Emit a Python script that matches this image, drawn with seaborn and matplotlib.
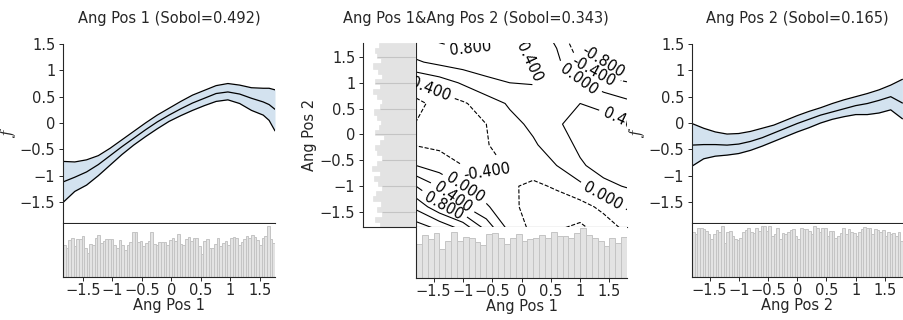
import numpy as np
import matplotlib
matplotlib.use("Agg")
import matplotlib.pyplot as plt
import seaborn as sns

# ---- 1D main effect: Ang Pos 1 ----
x1_grid = [-1.84, -1.64, -1.44, -1.24, -1.04, -0.84, -0.64, -0.44, -0.24, -0.04,
           0.16, 0.36, 0.56, 0.76, 0.96, 1.16, 1.36, 1.56, 1.66, 1.76]
f1_mean = [-1.12, -1.03, -0.93, -0.79, -0.62, -0.45, -0.29, -0.13, 0.02, 0.15,
           0.27, 0.38, 0.47, 0.56, 0.59, 0.55, 0.47, 0.40, 0.35, 0.26]
f1_upper = [-0.73, -0.74, -0.70, -0.62, -0.48, -0.32, -0.16, 0.00, 0.15, 0.28,
            0.41, 0.53, 0.62, 0.71, 0.75, 0.72, 0.67, 0.66, 0.66, 0.63]
f1_lower = [-1.51, -1.30, -1.18, -1.00, -0.80, -0.60, -0.42, -0.26, -0.11, 0.03,
            0.14, 0.24, 0.33, 0.41, 0.44, 0.37, 0.24, 0.15, 0.05, -0.15]

# ---- 1D main effect: Ang Pos 2 ----
x2_grid = [-1.8, -1.6, -1.4, -1.2, -1.0, -0.8, -0.6, -0.4, -0.2, 0.0,
           0.2, 0.4, 0.6, 0.8, 1.0, 1.2, 1.4, 1.6, 1.8]
f2_mean = [-0.42, -0.41, -0.41, -0.42, -0.40, -0.35, -0.28, -0.19, -0.10, -0.01,
           0.07, 0.15, 0.21, 0.27, 0.33, 0.37, 0.43, 0.50, 0.38]
f2_upper = [-0.01, -0.10, -0.17, -0.21, -0.20, -0.16, -0.10, -0.04, 0.05, 0.14,
            0.22, 0.29, 0.37, 0.44, 0.50, 0.56, 0.63, 0.72, 0.83]
f2_lower = [-0.82, -0.68, -0.63, -0.61, -0.58, -0.52, -0.44, -0.35, -0.26, -0.17,
            -0.09, 0.00, 0.07, 0.12, 0.16, 0.16, 0.19, 0.25, 0.08]

# ---- 2D interaction (rows = Ang Pos 2 from -1.8 up, cols = Ang Pos 1) ----
c_x1 = [-1.8, -1.4, -1.0, -0.6, -0.2, 0.2, 0.6, 1.0, 1.4, 1.8]
c_x2 = [-1.8, -1.4, -1.0, -0.6, -0.2, 0.2, 0.6, 1.0, 1.4, 1.8]
c_f = [
    [2.20, 1.90, 1.45, 0.65, -0.15, -0.50, -0.75, -0.88, -0.60, -0.30],
    [1.50, 0.90, 0.45, 0.05, -0.30, -0.55, -0.60, -0.55, -0.30, 0.05],
    [0.80, 0.37, 0.00, -0.25, -0.35, -0.48, -0.35, -0.10, 0.30, 0.43],
    [0.00, -0.20, -0.40, -0.48, -0.37, -0.20, 0.00, 0.35, 0.55, 0.60],
    [-0.42, -0.48, -0.55, -0.42, -0.25, -0.05, 0.20, 0.48, 0.62, 0.60],
    [-0.78, -0.60, -0.50, -0.40, -0.12, 0.08, 0.35, 0.55, 0.55, 0.42],
    [-0.95, -0.60, -0.45, -0.20, 0.05, 0.20, 0.38, 0.40, 0.30, 0.10],
    [-0.38, -0.20, 0.05, 0.30, 0.40, 0.42, 0.25, 0.05, -0.25, -0.37],
    [0.35, 0.50, 0.60, 0.62, 0.55, 0.37, 0.10, -0.45, -0.80, -1.00],
    [0.70, 0.82, 0.92, 0.84, 0.46, 0.25, -0.05, -0.75, -1.05, -1.30],
]
c_levels = [-0.8, -0.4, 0.0, 0.4, 0.8, 1.2, 1.6, 2.0]
# where the inline labels sit (Ang Pos 1, Ang Pos 2)
c_label_pos = [(-0.87, 1.62), (0.12, 1.40), (-1.56, 1.00), (1.43, 1.46), (1.23, 1.21),
               (0.99, 1.08), (1.71, 0.21), (-0.57, -0.78), (-0.94, -1.00),
               (-1.14, -1.16), (-1.31, -1.35), (1.39, -1.20)]

# ---- sample histograms (counts per bin) ----
h1_counts = [93, 83, 105, 111, 88, 108, 108, 118, 83, 68, 95, 93, 113, 120, 98, 103,
             108, 108, 108, 93, 83, 105, 93, 78, 91, 101, 128, 128, 101, 103, 88, 98,
             103, 128, 95, 93, 101, 101, 101, 93, 105, 113, 103, 123, 95, 93, 108, 115,
             103, 111, 113, 88, 65, 103, 108, 83, 83, 95, 113, 88, 98, 103, 93, 111,
             115, 111, 93, 101, 108, 118, 113, 121, 115, 105, 93, 113, 118, 148, 108, 98]
h2_counts = [103, 98, 113, 113, 110, 105, 98, 88, 98, 108, 103, 118, 78, 103, 105, 93,
             88, 85, 90, 103, 108, 113, 103, 100, 113, 105, 118, 118, 105, 118, 93, 98,
             113, 88, 100, 98, 103, 108, 110, 95, 88, 113, 110, 110, 105, 98, 118, 113,
             103, 113, 113, 95, 105, 105, 90, 95, 100, 113, 98, 110, 103, 100, 93, 103,
             110, 115, 113, 113, 98, 110, 108, 103, 108, 95, 103, 98, 100, 93, 103, 83]
hb_counts = [93, 117, 105, 122, 80, 100, 125, 102, 112, 108, 98, 90, 120, 122, 108, 93,
             110, 120, 102, 105, 110, 117, 108, 125, 114, 114, 108, 122, 135, 118, 110, 100,
             88, 108, 95, 113]
hl_counts = [104, 118, 96, 112, 100, 122, 114, 98, 108, 120, 102, 126, 112, 96, 110, 118,
             104, 92, 116, 106, 100, 112, 120, 102, 96, 110, 122, 104, 116, 98, 108, 124,
             100, 112, 118, 106]

xlim1 = (-1.84, 1.76)
xlim2 = (-1.80, 1.81)
flim = (-1.9, 1.52)
clim_x = (-1.80, 1.80)
clim_y = (-1.79, 1.77)

ticks = [-1.5, -1, -0.5, 0, 0.5, 1, 1.5]
tick_labels = ["\u22121.5", "\u22121", "\u22120.5", "0", "0.5", "1", "1.5"]

sns.set_style("ticks")
plt.rcParams["font.family"] = ["DejaVu Sans"]
plt.rcParams["mathtext.fontset"] = "cm"
plt.rcParams["font.size"] = 10.5
plt.rcParams["axes.linewidth"] = 0.8
plt.rcParams["xtick.major.size"] = 3
plt.rcParams["ytick.major.size"] = 3
plt.rcParams["xtick.major.pad"] = 1.5
plt.rcParams["ytick.major.pad"] = 2.5
plt.rcParams["xtick.major.width"] = 0.7
plt.rcParams["ytick.major.width"] = 0.7
plt.rcParams["xtick.labelsize"] = 10.5
plt.rcParams["ytick.labelsize"] = 10.5

W, H = 904, 320
fig = plt.figure(figsize=(W / 100, H / 100), dpi=100)


def box(x0, y0, x1, y1):
    # pixel box (top-left origin) -> figure fraction
    return [x0 / W, 1 - y1 / H, (x1 - x0) / W, (y1 - y0) / H]


band_color = "#d3e2ef"
bar_color = "#e3e3e3"
bar_edge = "#c4c4c4"


def effect_panel(x0, x1, xs, mean, upper, lower, xlim):
    ax = fig.add_axes(box(x0, 43, x1, 223))
    hx = fig.add_axes(box(x0, 224, x1, 277))
    ax.fill_between(xs, lower, upper, color=band_color, lw=0)
    sns.lineplot(x=xs, y=mean, ax=ax, color="k", lw=0.9)
    sns.lineplot(x=xs, y=upper, ax=ax, color="k", lw=0.9)
    sns.lineplot(x=xs, y=lower, ax=ax, color="k", lw=0.9)
    ax.set_xlim(*xlim)
    ax.set_ylim(*flim)
    ax.set_yticks(ticks)
    ax.set_yticklabels(tick_labels)
    ax.set_xticks(ticks)
    ax.set_xticklabels([])
    ax.set_ylabel("$f$", labelpad=1, fontsize=13)
    sns.despine(ax=ax)
    ax.spines["left"].set_bounds(flim[0], 1.5)
    return ax, hx


def hist_panel(hx, counts, xlim, xlabel):
    edges = list(np.linspace(xlim[0], xlim[1], len(counts) + 1))
    centers = [(a + b) / 2 for a, b in zip(edges[:-1], edges[1:])]
    sns.histplot(x=centers, weights=counts, bins=edges, ax=hx, color=bar_color,
                 edgecolor=bar_edge, linewidth=0.7, alpha=1)
    hx.set_xlim(*xlim)
    hx.set_ylim(0, max(counts) * 1.03)
    hx.set_yticks([])
    hx.set_ylabel("")
    hx.set_xticks(ticks)
    hx.set_xticklabels(tick_labels)
    hx.set_xlabel(xlabel, labelpad=-0.5)
    sns.despine(ax=hx)


# left panel
axA, hA = effect_panel(63, 275, x1_grid, f1_mean, f1_upper, f1_lower, xlim1)
hist_panel(hA, h1_counts, xlim1, "Ang Pos 1")

# right panel
axB, hB = effect_panel(692, 903, x2_grid, f2_mean, f2_upper, f2_lower, xlim2)
hist_panel(hB, h2_counts, xlim2, "Ang Pos 2")

# middle panel: contour with marginal histograms
axC = fig.add_axes(box(416, 43, 627, 227))
hL = fig.add_axes(box(363, 43, 416, 227))
hC = fig.add_axes(box(416, 227, 627, 278))

X1, X2 = np.meshgrid(c_x1, c_x2)
cs = axC.contour(X1, X2, np.array(c_f), levels=c_levels, colors="k", linewidths=0.8)
labels = axC.clabel(cs, fmt="%.3f", fontsize=10.5, manual=c_label_pos)
for t in labels:
    t.set_clip_on(True)
axC.set_xlim(*clim_x)
axC.set_ylim(*clim_y)
axC.set_xticks(ticks)
axC.set_xticklabels([])
axC.set_yticks(ticks)
axC.set_yticklabels([])
sns.despine(ax=axC)

hist_panel(hC, hb_counts, clim_x, "Ang Pos 1")

edges = list(np.linspace(clim_y[0], clim_y[1], len(hl_counts) + 1))
centers = [(a + b) / 2 for a, b in zip(edges[:-1], edges[1:])]
sns.histplot(y=centers, weights=hl_counts, bins=edges, ax=hL, color=bar_color,
             edgecolor=bar_color, linewidth=0.5, alpha=1)
# faint bar edges at the tick rows
for t in ticks:
    i = int(np.searchsorted(edges, t)) - 1
    hL.hlines(t, 0, hl_counts[i], color=bar_edge, lw=0.8)
hL.set_ylim(*clim_y)
hL.set_xlim(max(hl_counts) * 1.2, 0)
hL.set_xticks([])
hL.set_xlabel("")
hL.set_yticks(ticks)
hL.set_yticklabels(tick_labels)
hL.set_ylabel("Ang Pos 2", labelpad=2)
sns.despine(ax=hL)

title_y = 1 - 18 / H
fig.text(169 / W, title_y, "Ang Pos 1 (Sobol=0.492)", ha="center", va="center")
fig.text(476 / W, title_y, "Ang Pos 1&Ang Pos 2 (Sobol=0.343)", ha="center", va="center")
fig.text(797 / W, title_y, "Ang Pos 2 (Sobol=0.165)", ha="center", va="center")

fig.savefig("out.png", dpi=100)
